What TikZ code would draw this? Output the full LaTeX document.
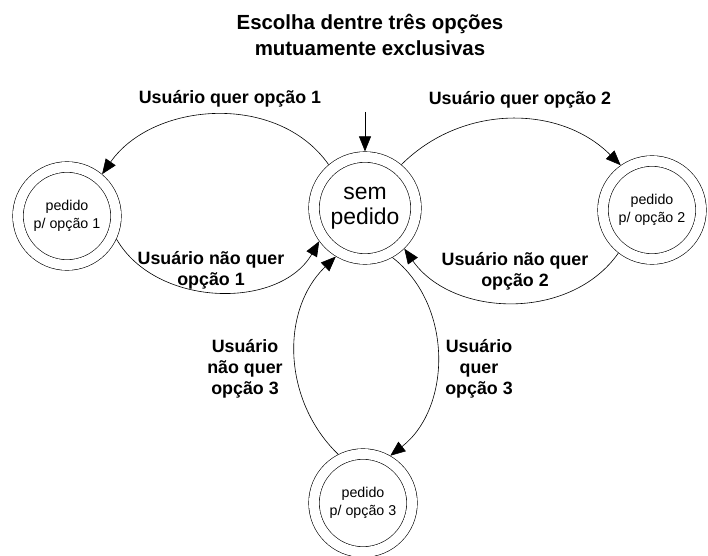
\documentclass[tikz,border=0pt]{standalone}
\usepackage{fontspec}
\setmainfont{Liberation Sans}
\usetikzlibrary{arrows.meta}

\tikzset{
  estado/.style={circle, draw, double, double distance=10bp, line width=0.6bp,
    minimum size=98bp, inner sep=0pt, outer sep=5.6bp, align=center,
    font=\fontsize{14.3}{18.3}\selectfont},
  rotulo/.style={align=center, inner sep=0pt, font=\bfseries\fontsize{17.9}{21}\selectfont},
  seta/.style={line width=0.6bp, -{Triangle[length=15bp,width=12bp]}}
}

\begin{document}
\begin{tikzpicture}[x=1bp, y=1bp]
  \useasboundingbox (0,0) rectangle (708,-556);
  % Title
  \node[rotulo, font=\bfseries\fontsize{20.5}{26}\selectfont] (titulo) at (370,-35)
    {Escolha dentre três opções\\mutuamente exclusivas};
  % States
  \node[estado, minimum size=102bp, font=\fontsize{23}{25}\selectfont] (sem) at (365,-208) {sem\\pedido};
  \node[estado] (op1) at (67,-216) {pedido\\p/ opção 1};
  \node[estado] (op2) at (652,-210) {pedido\\p/ opção 2};
  \node[estado] (op3) at (363,-503) {pedido\\p/ opção 3};
  % Initial arrow
  \coordinate (inicio) at (365,-112);
  \draw[seta] (inicio) -- (sem);
  % Transitions to and from option 1
  \draw[seta] (sem.130) to[out=125, in=55] (op1.50);
  \draw[seta] (op1.-25) to[out=-60, in=240] (sem.216);
  % Transitions to and from option 2
  \draw[seta] (sem.50) to[out=45, in=135] (op2.125);
  \draw[seta] (op2.232) to[out=235, in=305] (sem.-46);
  % Transitions to and from option 3
  \draw[seta] (sem.-61) to[out=-38, in=38] (op3.60);
  \draw[seta] (op3.117) to[out=136, in=224] (sem.239);
  % Labels
  \node[rotulo] (quer1) at (230,-99) {Usuário quer opção 1};
  \node[rotulo] (quer2) at (520,-100) {Usuário quer opção 2};
  \node[rotulo] (naoquer1) at (211,-270) {Usuário não quer\\opção 1};
  \node[rotulo] (naoquer2) at (515,-271) {Usuário não quer\\opção 2};
  \node[rotulo] (naoquer3) at (245,-369) {Usuário\\não quer\\opção 3};
  \node[rotulo] (quer3) at (479,-369) {Usuário\\quer\\opção 3};
\end{tikzpicture}
\end{document}
